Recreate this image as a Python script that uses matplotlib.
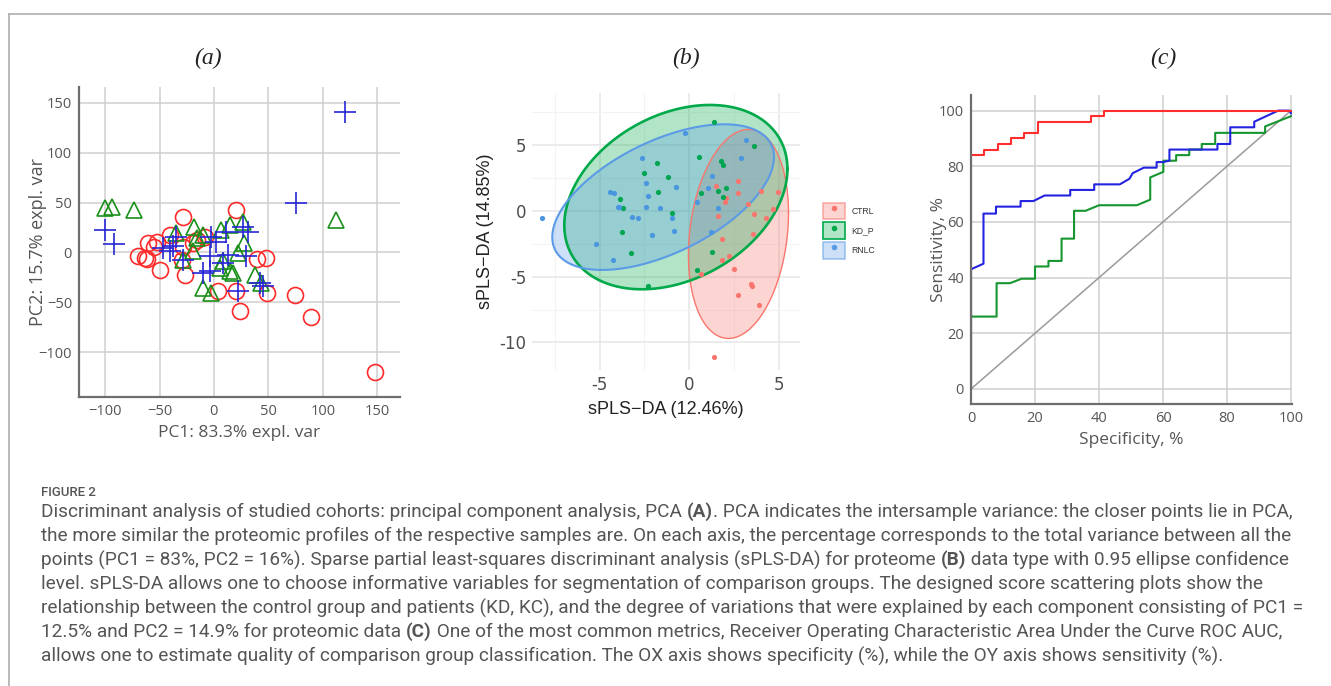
# ==== IMPORT ================================================================ #

import matplotlib
matplotlib.use("Agg")

import matplotlib.pyplot as plt
import numpy             as np

from matplotlib.colors         import to_rgba
from matplotlib.legend_handler import HandlerTuple
from matplotlib.lines          import Line2D
from matplotlib.patches        import Rectangle

# ==== DATA ================================================================== #

# (a) PCA scores, one list pair per group
ctrl_pc1 = [20.5, -28.5, -40.7, -52, -60.7, -55, -70, -63.7, -61.6, -50, -28.5,
            -29, -27, -19, -8.6, -16, 40, 48, 3.7, 20.5, 23.6, 48.7, 74.8,
            88.8, 148]
ctrl_pc2 = [42.8, 36, 17.7, 10, 9.4, 5, -4, -5.7, -6.7, -18, 5.7, -7.4, -22.4,
            9.4, 16, 12.7, -6.4, -5.7, -39, -39, -59, -40.8, -43, -65, -120]
kd_pc1   = [-100.5, -93.4, -73, 112.4, -34.6, -18.4, -10, 6.7, 14.4, 26.7, 28,
            22, -19.3, -28.5, 8.3, 5.2, 14.4, 17.5, 37.4, -10, -2.5, 43.5, -16]
kd_pc2   = [44.5, 46, 43, 32.8, 19.4, 26, 17.7, 22.7, 27.8, 31, 9.4, -0.7, 1,
            -7.4, -9, -15.7, -19, -20.7, -22.4, -35.8, -40.8, -30.8, 14.4]
rn_pc1   = [120, 75.7, -100.5, -92, -47, -37.7, -34.6, -40.7, -28.5, -2.5, 2,
            -4, -10, -4, 13, 11.3, 26.7, 31, 29.7, 22, 45, 42, 8.3]
rn_pc2   = [140.8, 49.5, 22.7, 8.7, 4.3, 6, 16, 1, -7.4, 16, 11, -4, -20.7, -19,
            -2.3, 21, 26, 21, -4, -39, -34, -31, -10.7]
ticks_a  = [-100, -50, 0, 50, 100, 150]

# (b) sPLS-DA scores
ctrl_c1 = [1.49, 2.04, 1.97, 2.7, 2.7, 3.29, 4.0, 4.65, 3.62, 4.28, 3.57, 1.62,
           1.82, 2.21, 1.8, 2.49, 0.65, 3.42, 3.51, 2.73, 3.87, 1.38, 4.96]
ctrl_c2 = [1.9, 0.96, 0.66, 2.3, 1.34, 0.51, 1.52, 0.13, -0.25, -0.56, -1.75,
           -0.38, -2.13, -3.4, -3.73, -4.44, -4.82, -5.55, -5.68, -6.39, -7.15,
           -11.08, 1.47]
kd_c1   = [1.36, 3.61, 0.54, -2.51, -1.78, -1.19, -1.77, -3.87, -3.72, -0.99,
           -3.74, -3.23, -2.29, 0.41, 1.28, 0.67, 1.58, 2.04, 1.9, 1.75, 1.9]
kd_c2   = [6.77, 4.97, 4.08, 2.89, 3.62, 2.61, 1.44, 0.89, 0.2, -0.13, -1.62,
           -3.17, -5.68, -4.49, -3.14, 1.37, 1.5, 1.72, 1.09, 3.8, 3.5]
rn_c1   = [-8.23, -5.2, -4.24, -4.42, -4.18, -3.96, -3.22, -2.84, -2.62, -2.43,
           -2.29, -2.43, -2.1, -1.64, -0.99, -0.84, -0.76, -0.22, 0.45, 1.04,
           1.25, 1.19, 1.62, 2.86, 3.14, -3.9]
rn_c2   = [-0.51, -2.5, -3.73, 1.47, 1.39, 0.28, -0.43, -0.56, 4.0, 2.15, 1.14,
           0.3, -1.83, 0.23, -0.56, -1.5, 1.85, 5.96, 0.71, 1.72, 2.69, -1.57,
           0.2, 4.06, 5.4, 0.28]

# 95% ellipses: centre x, centre y, half width, half height, x shift of top
ell_ctrl = [2.74, -1.75, 2.79, 7.95, 0.56]
ell_kd   = [-0.75, 1.05, 6.22, 7.01, 1.9]
ell_rn   = [-1.46, 1.05, 6.18, 5.54, 3.4]

groups_b       = ["CTRL", "KD_P", "RNLC"]
ticks_b        = [-5, 0, 5]
xtick_labels_b = ["-5", "0", "5"]
yticks_b       = [-10, -5, 0, 5]
ytick_labels_b = ["-10", "-5", "0", "5"]

# (c) ROC curves, corner points
roc_red_x   = [0, 0, 4.2, 4.2, 8.3, 8.3, 12.5, 12.5, 16.7, 16.7, 20.8, 20.8,
               37.5, 37.5, 41.7, 41.7, 100]
roc_red_y   = [0, 84, 84, 86, 86, 88, 88, 90, 90, 92, 92, 96, 96, 98, 98, 100,
               100]
roc_blue_x  = [0, 0, 3.9, 3.9, 7.8, 7.8, 15.5, 15.5, 19.5, 23, 31, 31, 38.5,
               38.5, 46.5, 49.5, 50.5, 54, 58, 58, 60, 62, 62, 77, 77, 81, 81,
               88.5, 88.5, 96, 99.5, 100]
roc_blue_y  = [0, 43, 45, 63, 63, 65.5, 65.5, 67.5, 67.5, 69.5, 69.5, 71.5,
               71.5, 73.5, 73.5, 75.5, 77.5, 79.5, 79.5, 81.5, 81.5, 82, 86, 86,
               88, 88, 94, 94, 96, 100, 100, 99]
roc_green_x = [0, 0, 8, 8, 12.2, 15.8, 20, 20, 24.2, 24.2, 28.3, 28.3, 32.2,
               32.2, 35.8, 40, 51.8, 56, 56, 60.1, 60.1, 64.1, 64.1, 68.2, 68.2,
               72.1, 72.1, 76.3, 76.3, 91.9, 91.9, 100]
roc_green_y = [0, 26, 26, 38, 38, 39.6, 39.6, 44, 44, 46, 46, 54, 54, 64, 64,
               66, 66, 68, 76, 78, 82, 82, 84, 84, 86, 86, 88, 88, 92, 92, 94.3,
               98]
ticks_c     = [0, 20, 40, 60, 80, 100]

caption_head  = "FIGURE 2"
caption_lines = [
    [("Discriminant analysis of studied cohorts: principal component analysis, PCA ", False),
     ("(A)", True),
     (". PCA indicates the intersample variance: the closer points lie in PCA,", False)],
    [("the more similar the proteomic profiles of the respective samples are. On each axis, the percentage corresponds to the total variance between all the", False)],
    [("points (PC1 = 83%, PC2 = 16%). Sparse partial least-squares discriminant analysis (sPLS-DA) for proteome ", False),
     ("(B)", True),
     (" data type with 0.95 ellipse confidence", False)],
    [("level. sPLS-DA allows one to choose informative variables for segmentation of comparison groups. The designed score scattering plots show the", False)],
    [("relationship between the control group and patients (KD, KC), and the degree of variations that were explained by each component consisting of PC1 =", False)],
    [("12.5% and PC2 = 14.9% for proteomic data ", False),
     ("(C)", True),
     (" One of the most common metrics, Receiver Operating Characteristic Area Under the Curve ROC AUC,", False)],
    [("allows one to estimate quality of comparison group classification. The OX axis shows specificity (%), while the OY axis shows sensitivity (%).", False)],
]

# ==== STYLE ================================================================= #

W, H      = 1331, 686
TXT       = "#555555"
SANS      = "Open Sans"
COL_CTRL  = "#F8766D"
COL_KD    = "#00A94A"
COL_RN    = "#5B9BE6"

# ==== FUNCTIONS ============================================================= #

def px_axes(fig, left, top, right, bottom):

    return fig.add_axes([left / W, 1 - bottom / H,
                         (right - left) / W, (bottom - top) / H])


def grey_frame(ax):

    for s in ("top", "right"):
        ax.spines[s].set_visible(False)
    for s in ("left", "bottom"):
        ax.spines[s].set_color("#6e6e6e")
        ax.spines[s].set_linewidth(1.6)
    ax.grid(True, color="#cfcfcf", lw=1.1)
    ax.set_axisbelow(True)
    ax.tick_params(length=0, labelsize=10.5, labelcolor=TXT, pad=5)
    for t in ax.get_xticklabels() + ax.get_yticklabels():
        t.set_fontfamily(SANS)


def ellipse_xy(e, n=240):

    cx, cy, hw, hh, tilt = e
    s = np.array([[hw ** 2, tilt * hh], [tilt * hh, hh ** 2]])
    l = np.linalg.cholesky(s)
    t = np.linspace(0, 2 * np.pi, n)
    p = l @ np.vstack([np.cos(t), np.sin(t)])
    return cx + p[0], cy + p[1]


def panel_a(fig):

    ax = px_axes(fig, 79, 87, 400, 397)
    ax.plot(ctrl_pc1, ctrl_pc2, ls="", marker="o", ms=11.5, mfc="none",
            mec="#ff2a2a", mew=1.2)
    ax.plot(kd_pc1, kd_pc2, ls="", marker="^", ms=11.5, mfc="none",
            mec="#1a8f1a", mew=1.2)
    ax.plot(rn_pc1, rn_pc2, ls="", marker="+", ms=16, mec="#2626d6", mew=1.2)
    ax.set_xlim(-124, 171)
    ax.set_ylim(-145, 166)
    ax.set_xticks(ticks_a)
    ax.set_yticks(ticks_a)
    grey_frame(ax)
    ax.set_xlabel("PC1: 83.3% expl. var", fontsize=12.5, color=TXT,
                  family=SANS)
    ax.set_ylabel("PC2: 15.7% expl. var", fontsize=13, color=TXT,
                  family=SANS)
    ax.xaxis.set_label_coords(0.5, -0.09)
    ax.yaxis.set_label_coords(-0.1, 0.5)


def panel_b(fig):

    ax = px_axes(fig, 532, 93, 800, 370)
    for s in ax.spines.values():
        s.set_visible(False)
    ax.set_xlim(-8.77, 6.17)
    ax.set_ylim(-12.1, 8.97)
    ax.set_xticks(ticks_b, xtick_labels_b)
    ax.set_yticks(yticks_b, ytick_labels_b)
    ax.set_xticks([-7.5, -2.5, 2.5], minor=True)
    ax.set_yticks([-7.5, -2.5, 2.5, 7.5], minor=True)
    ax.grid(True, which="major", color="#e6e6e6", lw=1.1)
    ax.grid(True, which="minor", color="#f3f3f3", lw=0.8)
    ax.set_axisbelow(True)
    ax.tick_params(which="both", length=0, labelsize=12, labelcolor="#4d4d4d",
                   pad=4)

    shapes = [(ell_ctrl, COL_CTRL, 1.0, 0.3), (ell_kd, COL_KD, 1.9, 0.3),
              (ell_rn, COL_RN, 1.5, 0.3)]
    for e, c, lw, a in shapes:
        x, y = ellipse_xy(e)
        ax.fill(x, y, color=c, alpha=a, lw=0, zorder=1)
        ax.plot(x, y, color=c, lw=lw, zorder=2)

    ax.scatter(ctrl_c1, ctrl_c2, s=14, color=COL_CTRL, lw=0, zorder=3)
    ax.scatter(kd_c1, kd_c2, s=14, color="#00A551", lw=0, zorder=3)
    ax.scatter(rn_c1, rn_c2, s=14, color="#4A95E0", lw=0, zorder=3)

    ax.set_xlabel("sPLS\u2212DA (12.46%)", fontsize=13, color="#222222",
                  family="Liberation Sans", labelpad=5)
    ax.set_ylabel("sPLS\u2212DA (14.85%)", fontsize=13, color="#222222",
                  family="Liberation Sans", labelpad=4)

    handles = []
    for c, e in zip((COL_CTRL, COL_KD, COL_RN), (0.55, 1.0, 0.55)):
        box = Rectangle((0, 0), 1, 1, facecolor=to_rgba(c, 0.3),
                        edgecolor=to_rgba(c, e), lw=1.2)
        dot = Line2D([], [], ls="", marker="o", ms=3, color=c)
        handles.append((box, dot))
    ax.legend(handles, groups_b, handler_map={tuple: HandlerTuple(ndivide=1)},
              loc="center left", bbox_to_anchor=(1.07, 0.503), frameon=False,
              prop={"family": "Liberation Sans", "size": 6.2},
              handlelength=2.6, handleheight=2.6, labelspacing=0.35,
              handletextpad=0.7, borderpad=0, labelcolor="#333333")


def panel_c(fig):

    ax = px_axes(fig, 971, 95, 1292, 404)
    ax.plot([0, 100], [0, 100], color="#9a9a9a", lw=1.1)
    ax.plot(roc_green_x, roc_green_y, color="#17962f", lw=1.5)
    ax.plot(roc_blue_x, roc_blue_y, color="#2323e0", lw=1.5)
    ax.plot(roc_red_x, roc_red_y, color="#ff2e2e", lw=1.5)
    ax.set_xlim(0, 100.3)
    ax.set_ylim(-5.4, 105.6)
    ax.set_xticks(ticks_c)
    ax.set_yticks(ticks_c)
    grey_frame(ax)
    ax.set_xlabel("Specificity, %", fontsize=12.5, color=TXT, family=SANS)
    ax.set_ylabel("Sensitivity, %", fontsize=12.5, color=TXT, family=SANS)
    ax.xaxis.set_label_coords(0.5, -0.09)
    ax.yaxis.set_label_coords(-0.075, 0.5)


def caption(fig):

    ax = fig.add_axes([0, 0, 1, 1], zorder=-1)
    ax.set_xlim(0, W)
    ax.set_ylim(H, 0)
    ax.axis("off")

    # outer frame
    ax.plot([9, W], [14, 14], color="#b4b4b4", lw=1.3)
    ax.plot([9, 9], [14, H], color="#b4b4b4", lw=1.3)

    for lab, x in (("(a)", 208), ("(b)", 686), ("(c)", 1163)):
        ax.text(x, 58, lab, ha="center", va="center", fontsize=17,
                style="italic", family="Liberation Serif", color="#222222")

    ax.text(41, 493, caption_head, ha="left", va="center", fontsize=9.5,
            weight="medium", family="Roboto", color=TXT)

    y = 512
    for line in caption_lines:
        prev = None
        for s, bold in line:
            kw = dict(fontsize=13.7, family="Roboto", color=TXT,
                      weight="bold" if bold else "normal")
            if prev is None:
                prev = ax.text(41, y, s, ha="left", va="center", **kw)
            else:
                prev = ax.annotate(s, xy=(1, 0.5), xycoords=prev, ha="left",
                                   va="center", **kw)
        y += 24

# ==== MAIN ================================================================== #

def main():

    fig = plt.figure(figsize=(W / 100, H / 100), dpi=100)
    fig.patch.set_facecolor("white")
    caption(fig)
    panel_a(fig)
    panel_b(fig)
    panel_c(fig)
    fig.savefig("out.png", dpi=100, facecolor="white")


if __name__ == "__main__":

    main()
